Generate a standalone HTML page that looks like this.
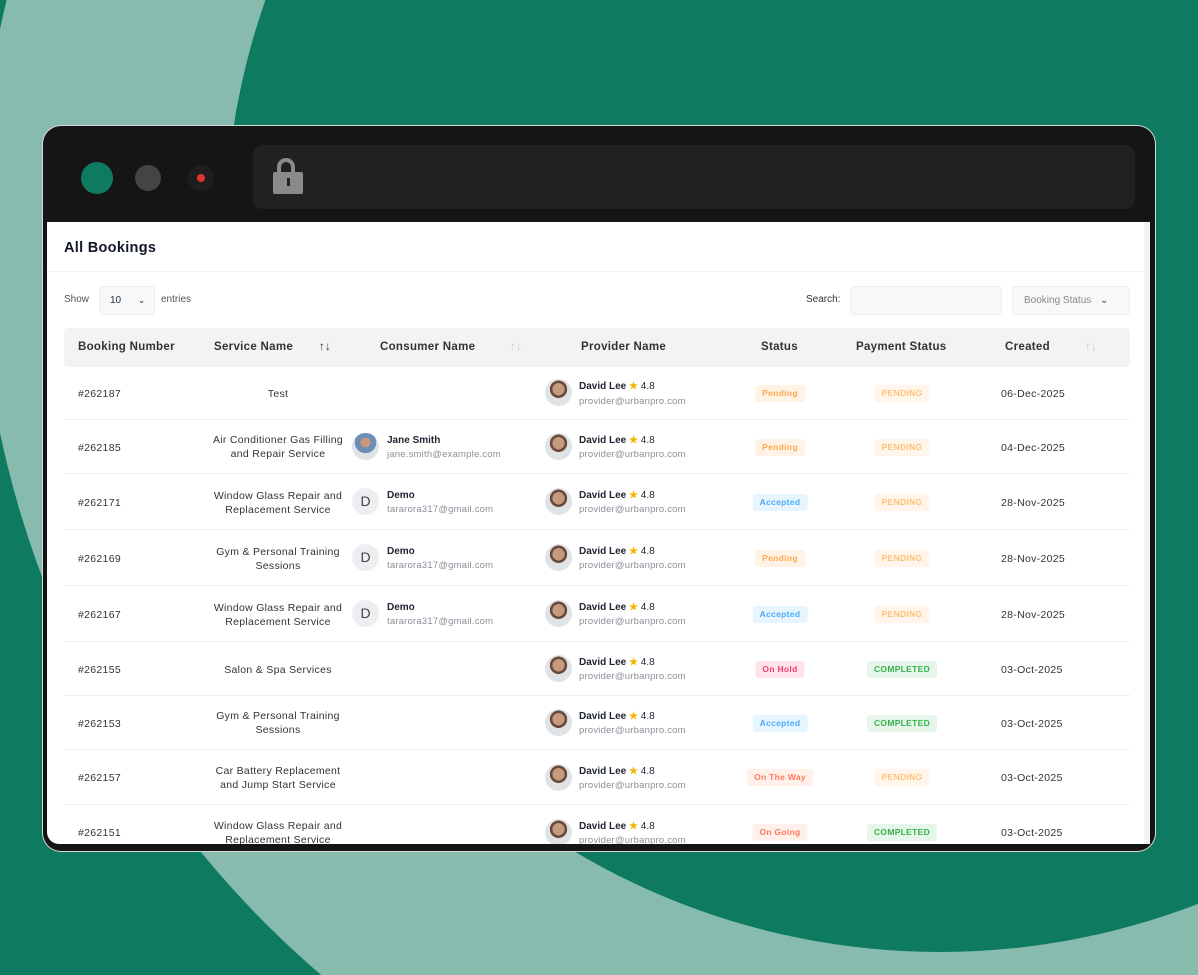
<!DOCTYPE html>
<html><head><meta charset="utf-8"><style>
*{box-sizing:border-box;margin:0;padding:0}
body{width:1198px;height:975px;overflow:hidden;position:relative;background:#0e7a5f;font-family:"Liberation Sans",sans-serif;color:#2a3042}
.abs{position:absolute}
.win{left:43px;top:126px;width:1112px;height:725px;background:#151515;border-radius:18px;box-shadow:0 0 0 1px #d8d8d8}
.content{left:47px;top:222px;width:1097px;height:622px;background:#fff;overflow:hidden;border-bottom-left-radius:12px}
.scroll{left:1144px;top:222px;width:6px;height:622px;background:#f1f3f6}
.dot{border-radius:50%}
.th{position:absolute;top:0;height:39px;line-height:39px;font-size:11.5px;color:#333;font-weight:bold;letter-spacing:.3px}
.row{position:absolute;left:17px;width:1066px;border-bottom:1px solid #eceef0}
.c{position:absolute;font-size:10.5px;color:#333;letter-spacing:.3px}
.svc{position:absolute;left:120px;width:188px;text-align:center;font-size:10.5px;line-height:14px;color:#333;letter-spacing:.3px}
.badge{position:absolute;height:17px;line-height:17px;font-size:8.5px;font-weight:bold;border-radius:3px;text-align:center;padding:0 7px;transform:translateX(-50%);letter-spacing:.3px;white-space:nowrap}
.av{position:absolute;width:27px;height:27px;border-radius:50%;background:radial-gradient(circle at 50% 38%,#c79a80 0 28%,#6a4a3a 29% 40%,#dfe3e6 41%)}
.nm{position:absolute;font-size:10px;font-weight:bold;color:#1e2430;white-space:nowrap}
.em{position:absolute;font-size:9.5px;color:#8a8f98;letter-spacing:.2px;white-space:nowrap}
.star{color:#f5b400}
</style></head><body>
<svg class="abs" style="left:0;top:0" width="1198" height="975">
<circle cx="959" cy="231" r="980" fill="#87bbae"/>
<circle cx="940" cy="237" r="715" fill="#0e7a5f"/>
</svg>
<div class="abs win"></div>
<div class="abs dot" style="left:81px;top:162px;width:32px;height:32px;background:#0e7a5f"></div>
<div class="abs dot" style="left:135px;top:165px;width:26px;height:26px;background:#444"></div>
<div class="abs dot" style="left:188px;top:165px;width:26px;height:26px;background:#1e1e1e"></div>
<div class="abs dot" style="left:197px;top:174px;width:8px;height:8px;background:#e0342c"></div>
<div class="abs" style="left:253px;top:145px;width:882px;height:64px;background:#212121;border-radius:10px"></div>
<div class="abs" style="left:277px;top:158px;width:18px;height:18px;border:4px solid #8a8a8a;border-bottom:none;border-radius:9px 9px 0 0"></div>
<div class="abs" style="left:273px;top:172px;width:30px;height:22px;background:#8a8a8a;border-radius:2px"></div>
<div class="abs" style="left:287px;top:178px;width:3px;height:8px;background:#222"></div>
<div class="abs scroll"></div>
<div class="abs content">
 <div class="abs" style="left:17px;top:18px;font-size:14.5px;font-weight:bold;color:#101828;letter-spacing:.3px">All Bookings</div>
 <div class="abs" style="left:0;top:49px;width:1097px;border-top:1px solid #eef0f2"></div>
 <div class="abs" style="left:17px;top:72px;font-size:10px;color:#555">Show</div>
 <div class="abs" style="left:52px;top:64px;width:56px;height:29px;background:#f7f8f9;border:1px solid #eceef0;border-radius:4px;font-size:10px;line-height:27px;padding-left:10px">10 <span style="margin-left:14px;font-size:9px">&#8964;</span></div>
 <div class="abs" style="left:114px;top:72px;font-size:10px;color:#555">entries</div>
 <div class="abs" style="left:759px;top:72px;font-size:10px;color:#333">Search:</div>
 <div class="abs" style="left:803px;top:64px;width:152px;height:29px;background:#f7f8f9;border:1px solid #eceef0;border-radius:4px"></div>
 <div class="abs" style="left:965px;top:64px;width:118px;height:29px;background:#f7f8f9;border:1px solid #eceef0;border-radius:4px;font-size:10px;line-height:27px;padding-left:11px;color:#888">Booking Status <span style="margin-left:6px;color:#444">&#8964;</span></div>
 <div class="abs" style="left:17px;top:106px;width:1066px;height:39px;background:#f3f3f3;border-radius:4px">
  <div class="th" style="left:14px">Booking Number</div>
  <div class="th" style="left:150px">Service Name</div>
  <div class="th" style="left:255px;font-weight:normal;color:#333">↑↓</div>
  <div class="th" style="left:316px">Consumer Name</div>
  <div class="th" style="left:446px;font-weight:normal;color:#ccc">↑↓</div>
  <div class="th" style="left:517px">Provider Name</div>
  <div class="th" style="left:697px">Status</div>
  <div class="th" style="left:792px">Payment Status</div>
  <div class="th" style="left:941px">Created</div>
  <div class="th" style="left:1021px;font-weight:normal;color:#ccc">↑↓</div>
 </div>
 <div class="row" style="top:145px;height:53px">
  <div class="c" style="left:14px;top:21px">#262187</div><div class="svc" style="top:20px">Test</div>
  <div class="av" style="left:481px;top:12px"></div><div class="nm" style="left:515px;top:14px">David Lee <span class="star">★</span> <span style="font-weight:normal">4.8</span></div><div class="em" style="left:515px;top:29px">provider@urbanpro.com</div>
  <div class="badge" style="left:716px;top:18px;background:#fff3e6;color:#ffa94d">Pending</div>
  <div class="badge" style="left:838px;top:18px;background:#fff5ea;color:#ffc078">PENDING</div>
  <div class="c" style="left:937px;top:21px">06-Dec-2025</div>
 </div>
 <div class="row" style="top:198px;height:54px">
  <div class="c" style="left:14px;top:22px">#262185</div><div class="svc" style="top:13px">Air Conditioner Gas Filling<br>and Repair Service</div>
  <div class="av" style="left:288px;top:13px;background:radial-gradient(circle at 50% 35%,#c9967a 0 22%,#6b8fb5 23% 48%,#dfe3e6 49%)"></div><div class="nm" style="left:323px;top:15px">Jane Smith</div><div class="em" style="left:323px;top:29px">jane.smith@example.com</div>
  <div class="av" style="left:481px;top:13px"></div><div class="nm" style="left:515px;top:15px">David Lee <span class="star">★</span> <span style="font-weight:normal">4.8</span></div><div class="em" style="left:515px;top:29px">provider@urbanpro.com</div>
  <div class="badge" style="left:716px;top:19px;background:#fff3e6;color:#ffa94d">Pending</div>
  <div class="badge" style="left:838px;top:19px;background:#fff5ea;color:#ffc078">PENDING</div>
  <div class="c" style="left:937px;top:22px">04-Dec-2025</div>
 </div>
 <div class="row" style="top:252px;height:56px">
  <div class="c" style="left:14px;top:23px">#262171</div><div class="svc" style="top:15px">Window Glass Repair and<br>Replacement Service</div>
  <div class="av" style="left:288px;top:14px;background:#eceef1;text-align:center;line-height:27px;font-size:14px;color:#444">D</div><div class="nm" style="left:323px;top:16px">Demo</div><div class="em" style="left:323px;top:30px">tararora317@gmail.com</div>
  <div class="av" style="left:481px;top:14px"></div><div class="nm" style="left:515px;top:16px">David Lee <span class="star">★</span> <span style="font-weight:normal">4.8</span></div><div class="em" style="left:515px;top:30px">provider@urbanpro.com</div>
  <div class="badge" style="left:716px;top:20px;background:#e7f5ff;color:#4dabf7">Accepted</div>
  <div class="badge" style="left:838px;top:20px;background:#fff5ea;color:#ffc078">PENDING</div>
  <div class="c" style="left:937px;top:23px">28-Nov-2025</div>
 </div>
 <div class="row" style="top:308px;height:56px">
  <div class="c" style="left:14px;top:23px">#262169</div><div class="svc" style="top:15px">Gym &amp; Personal Training<br>Sessions</div>
  <div class="av" style="left:288px;top:14px;background:#eceef1;text-align:center;line-height:27px;font-size:14px;color:#444">D</div><div class="nm" style="left:323px;top:16px">Demo</div><div class="em" style="left:323px;top:30px">tararora317@gmail.com</div>
  <div class="av" style="left:481px;top:14px"></div><div class="nm" style="left:515px;top:16px">David Lee <span class="star">★</span> <span style="font-weight:normal">4.8</span></div><div class="em" style="left:515px;top:30px">provider@urbanpro.com</div>
  <div class="badge" style="left:716px;top:20px;background:#fff3e6;color:#ffa94d">Pending</div>
  <div class="badge" style="left:838px;top:20px;background:#fff5ea;color:#ffc078">PENDING</div>
  <div class="c" style="left:937px;top:23px">28-Nov-2025</div>
 </div>
 <div class="row" style="top:364px;height:56px">
  <div class="c" style="left:14px;top:23px">#262167</div><div class="svc" style="top:15px">Window Glass Repair and<br>Replacement Service</div>
  <div class="av" style="left:288px;top:14px;background:#eceef1;text-align:center;line-height:27px;font-size:14px;color:#444">D</div><div class="nm" style="left:323px;top:16px">Demo</div><div class="em" style="left:323px;top:30px">tararora317@gmail.com</div>
  <div class="av" style="left:481px;top:14px"></div><div class="nm" style="left:515px;top:16px">David Lee <span class="star">★</span> <span style="font-weight:normal">4.8</span></div><div class="em" style="left:515px;top:30px">provider@urbanpro.com</div>
  <div class="badge" style="left:716px;top:20px;background:#e7f5ff;color:#4dabf7">Accepted</div>
  <div class="badge" style="left:838px;top:20px;background:#fff5ea;color:#ffc078">PENDING</div>
  <div class="c" style="left:937px;top:23px">28-Nov-2025</div>
 </div>
 <div class="row" style="top:420px;height:54px">
  <div class="c" style="left:14px;top:22px">#262155</div><div class="svc" style="top:21px">Salon &amp; Spa Services</div>
  <div class="av" style="left:481px;top:13px"></div><div class="nm" style="left:515px;top:15px">David Lee <span class="star">★</span> <span style="font-weight:normal">4.8</span></div><div class="em" style="left:515px;top:29px">provider@urbanpro.com</div>
  <div class="badge" style="left:716px;top:19px;background:#ffe3ea;color:#f03e6e">On Hold</div>
  <div class="badge" style="left:838px;top:19px;background:#e6f6ea;color:#37b24d">COMPLETED</div>
  <div class="c" style="left:937px;top:22px">03-Oct-2025</div>
 </div>
 <div class="row" style="top:474px;height:54px">
  <div class="c" style="left:14px;top:22px">#262153</div><div class="svc" style="top:13px">Gym &amp; Personal Training<br>Sessions</div>
  <div class="av" style="left:481px;top:13px"></div><div class="nm" style="left:515px;top:15px">David Lee <span class="star">★</span> <span style="font-weight:normal">4.8</span></div><div class="em" style="left:515px;top:29px">provider@urbanpro.com</div>
  <div class="badge" style="left:716px;top:19px;background:#e7f5ff;color:#4dabf7">Accepted</div>
  <div class="badge" style="left:838px;top:19px;background:#e6f6ea;color:#37b24d">COMPLETED</div>
  <div class="c" style="left:937px;top:22px">03-Oct-2025</div>
 </div>
 <div class="row" style="top:528px;height:55px">
  <div class="c" style="left:14px;top:22px">#262157</div><div class="svc" style="top:14px">Car Battery Replacement<br>and Jump Start Service</div>
  <div class="av" style="left:481px;top:14px"></div><div class="nm" style="left:515px;top:16px">David Lee <span class="star">★</span> <span style="font-weight:normal">4.8</span></div><div class="em" style="left:515px;top:30px">provider@urbanpro.com</div>
  <div class="badge" style="left:716px;top:19px;background:#fff0ec;color:#ff7b5c">On The Way</div>
  <div class="badge" style="left:838px;top:19px;background:#fff5ea;color:#ffc078">PENDING</div>
  <div class="c" style="left:937px;top:22px">03-Oct-2025</div>
 </div>
 <div class="row" style="top:583px;height:39px;border:none;overflow:hidden">
  <div class="c" style="left:14px;top:22px">#262151</div><div class="svc" style="top:14px">Window Glass Repair and<br>Replacement Service</div>
  <div class="av" style="left:481px;top:14px"></div><div class="nm" style="left:515px;top:16px">David Lee <span class="star">★</span> <span style="font-weight:normal">4.8</span></div><div class="em" style="left:515px;top:30px">provider@urbanpro.com</div>
  <div class="badge" style="left:716px;top:19px;background:#fff0ec;color:#ff7b5c">On Going</div>
  <div class="badge" style="left:838px;top:19px;background:#e6f6ea;color:#37b24d">COMPLETED</div>
  <div class="c" style="left:937px;top:22px">03-Oct-2025</div>
 </div>
</div>
</body></html>
